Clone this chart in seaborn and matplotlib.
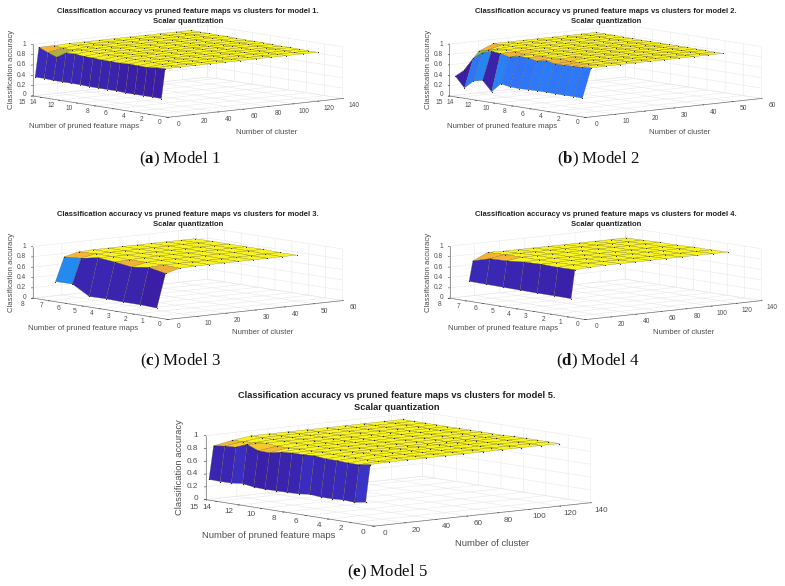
import numpy as np
import matplotlib
matplotlib.use("Agg")
import matplotlib.pyplot as plt
import seaborn as sns
from matplotlib.colors import LinearSegmentedColormap
from mpl_toolkits.mplot3d import proj3d

sns.set_theme(style="white", font="Liberation Sans")
plt.rcParams["mathtext.fontset"] = "custom"
plt.rcParams["mathtext.bf"] = "Liberation Serif:bold"
plt.rcParams["mathtext.rm"] = "Liberation Serif"

W, H = 785, 586

# ---- data ----
clusters_long = [2, 5, 17, 29, 41, 53, 65, 78, 90, 102, 115, 127]
clusters_short = [2, 5, 10, 15, 20, 25, 30, 35, 40, 45, 50]
pruned_15 = list(range(1, 16))
pruned_7 = list(range(1, 8))

# rows run from pruned = 1 upward
m1_low = [.33, .33, .33, .33, .33, .34, .34, .34, .34, .35, .35, .35, .35, .36, .36]
m1_ridge = [.90, .89, .87, .875, .88, .87, .875, .875, .887, .89, .91, .90, .79, .855, .93]
m1_third = [.90, .90, .90, .91, .91, .91, .92, .92, .92, .92, .93, .93, .90, .91, .93]
m1_plateau = [.90, .90, .905, .91, .91, .915, .92, .92, .92, .925, .93, .93, .935, .935, .94]

m2_low = [.33, .336, .333, .333, .337, .335, .33, .325, .33, .36, .18, .37, .33, .17, .37]
m2_ridge = [.895, .88, .87, .864, .863, .90, .86, .90, .90, .854, .898, .913, .85, .72, .466]
m2_third = [.90, .90, .89, .89, .88, .90, .89, .90, .90, .88, .90, .91, .90, .85, .80]
m2_plateau = [.90, .90, .905, .905, .91, .91, .91, .91, .91, .91, .915, .915, .92, .92, .92]

m3_low = [.157, .17, .17, .18, .175, .365, .36]
m3_ridge = [.81, .875, .83, .875, .908, .845, .82]
m3_third = [.88, .89, .89, .89, .90, .90, .89]
m3_plateau = [.89, .89, .90, .90, .90, .90, .90]

m4_low = [.346, .35, .35, .355, .36, .365, .37]
m4_ridge = [.896, .89, .90, .89, .86, .85, .757]
m4_third = [.91, .91, .90, .90, .90, .90, .89]
m4_plateau = [.92, .91, .91, .90, .90, .89, .88]

m5_low = [.34, .31, .32, .31, .31, .324, .305, .30, .297, .293, .30, .328, .308, .305, .31]
m5_ridge = [.92, .89, .89, .90, .90, .92, .91, .907, .894, .855, .86, .93, .86, .85, .827]
m5_third = [.93, .91, .91, .91, .91, .91, .92, .91, .91, .90, .90, .92, .90, .89, .88]
m5_plateau = [.93, .93, .93, .93, .93, .92, .92, .92, .92, .92, .92, .92, .92, .92, .92]

z_ticks = [0, .2, .4, .6, .8, 1]
z_labels = ["0", "0.2", "0.4", "0.6", "0.8", "1"]
y_ticks_15 = [0, 2, 4, 6, 8, 10, 12, 14, 15]
y_ticks_8 = [0, 1, 2, 3, 4, 5, 6, 7, 8]
x_ticks_140 = [0, 20, 40, 60, 80, 100, 120, 140]
x_ticks_60 = [0, 10, 20, 30, 40, 50, 60]

title_a = "Classification accuracy vs pruned feature maps vs clusters for model {}."
title_b = "Scalar quantization"
x_label = "Number of cluster"
y_label = "Number of pruned feature maps"
z_label = "Classification accuracy"

cmap = LinearSegmentedColormap.from_list("surf", [
    (0.00, "#3A1FA6"), (0.07, "#3A30C4"), (0.22, "#2C7BFF"), (0.40, "#12A5D5"),
    (0.62, "#45C08A"), (0.80, "#A8B040"), (0.88, "#EDAE35"), (0.93, "#F5B535"),
    (0.95, "#F5EE22"), (1.00, "#F8F41E")])

panels = [
    dict(n=1, letter="a", xs=clusters_long, ys=pruned_15, low=m1_low, ridge=m1_ridge, third=m1_third,
         plateau=m1_plateau, clim=(.33, .90), xlim=140, ylim=15, xt=x_ticks_140, yt=y_ticks_15,
         left=(33, 95.5), org=(167, 118), right=(343, 99), ztop=43.5,
         tc=188, ty=(11, 21), yl=(84, 127), xl=(267, 133), zl=(12, 69), cap=(180, 159), k=1),
    dict(n=2, letter="b", xs=clusters_short, ys=pruned_15, low=m2_low, ridge=m2_ridge, third=m2_third,
         plateau=m2_plateau, clim=(.17, .93), xlim=60, ylim=15, xt=x_ticks_60, yt=y_ticks_15,
         left=(450, 95.5), org=(584, 118), right=(762, 99), ztop=43.5,
         tc=606, ty=(11, 21), yl=(502, 126), xl=(680, 132), zl=(428, 69), cap=(598, 159), k=1),
    dict(n=3, letter="c", xs=clusters_short, ys=pruned_7, low=m3_low, ridge=m3_ridge, third=m3_third,
         plateau=m3_plateau, clim=(.157, .90), xlim=60, ylim=8, xt=x_ticks_60, yt=y_ticks_8,
         left=(33, 297), org=(167, 319.7), right=(343, 301.5), ztop=246.5,
         tc=188, ty=(214, 223.5), yl=(83, 328), xl=(263, 333), zl=(12, 272), cap=(180, 361), k=1),
    dict(n=4, letter="d", xs=clusters_long, ys=pruned_7, low=m4_low, ridge=m4_ridge, third=m4_third,
         plateau=m4_plateau, clim=(.34, .90), xlim=140, ylim=8, xt=x_ticks_140, yt=y_ticks_8,
         left=(450, 297), org=(584, 319.7), right=(762, 301.5), ztop=246.5,
         tc=606, ty=(214, 223.5), yl=(503, 328), xl=(684, 333), zl=(428, 272), cap=(598, 361), k=1),
    dict(n=5, letter="e", xs=clusters_long, ys=pruned_15, low=m5_low, ridge=m5_ridge, third=m5_third,
         plateau=m5_plateau, clim=(.29, .90), xlim=140, ylim=15, xt=x_ticks_140, yt=y_ticks_15,
         left=(206.7, 497.3), org=(371, 526), right=(591.7, 505.7), ztop=435,
         tc=397, ty=(395, 407), yl=(269, 536), xl=(492, 544), zl=(180, 467), cap=(387, 572), k=1.22),
]

fig = plt.figure(figsize=(W / 100, H / 100), dpi=100)
GREY = (.30, .30, .30)


def place(ax, pts3d, pts2d):
    """Scale and shift the square 3D axes so the named box corners land on the wanted pixels."""
    ax.set_position([.1, .1, 300 / W, 300 / H])
    ax.apply_aspect()
    M = ax.get_proj()
    us, vs = [], []
    for (x, y, z) in pts3d:
        u, v, _ = proj3d.proj_transform(x, y, z, M)
        us.append(u)
        vs.append(v)
    us, vs = np.array(us), np.array(vs)
    tx, ty = np.array([p[0] for p in pts2d]), H - np.array([p[1] for p in pts2d])
    du, dv = us - us.mean(), vs - vs.mean()
    s = ((du * (tx - tx.mean())).sum() + (dv * (ty - ty.mean())).sum()) / ((du**2).sum() + (dv**2).sum())
    ox, oy = tx.mean() - s * us.mean(), ty.mean() - s * vs.mean()
    p0, p1 = ax.transData.transform([[0, 0], [1, 1]])
    sx = p1[0] - p0[0]
    bb = ax.get_window_extent()
    fx, fy = (p0[0] - bb.x0) / bb.width, (p0[1] - bb.y0) / bb.height
    side = bb.width * s / sx
    left, bottom = ox - fx * side, oy - fy * side
    ax.set_position([left / W, bottom / H, side / W, side / H])
    ax.apply_aspect()


def px_text(x, y, s, ha="center", **kw):
    fig.text(x / W, 1 - y / H, s, ha=ha, va="center", **kw)


def to_px(ax, x, y, z):
    u, v, _ = proj3d.proj_transform(x, y, z, ax.get_proj())
    a, b = ax.transData.transform((u, v))
    return a, H - b


for p in panels:
    k = p["k"]
    ax = fig.add_axes([.1, .1, .3, .3], projection="3d", computed_zorder=False)
    ax.patch.set_alpha(0)
    ax.set_proj_type("ortho")
    ax.view_init(elev=7.5, azim=-129.6)
    ax.set_box_aspect((228.6, 214, 52.5))
    ax.set_xlim(0, p["xlim"])
    ax.set_ylim(0, p["ylim"])
    ax.set_zlim(0, 1)

    xs = np.array(p["xs"], float)
    ys = np.array(p["ys"], float)
    Z = np.column_stack([p["low"], p["ridge"], p["third"]] + [p["plateau"]] * (len(xs) - 3))
    X, Y = np.meshgrid(xs, ys)
    lo, hi = p["clim"]
    fc = cmap(np.clip((Z - lo) / (hi - lo), 0, 1))
    ax.plot_surface(X, Y, Z, facecolors=fc, rstride=1, cstride=1, shade=False,
                    edgecolor=(.36, .33, .12), linewidth=.16, antialiased=True)
    ax.plot(X.ravel(), Y.ravel(), Z.ravel(), ls="", marker="o", ms=.8 * k, color="#222222", mew=0)

    ax.set_xticks(p["xt"])
    ax.set_yticks(p["yt"])
    ax.set_zticks(z_ticks)
    ax.set_xticklabels([])
    ax.set_yticklabels([])
    ax.set_zticklabels([])
    for axis in (ax.xaxis, ax.yaxis, ax.zaxis):
        axis.set_pane_color((1, 1, 1, 0))
        axis.pane.set_edgecolor((.88, .88, .88))
        axis.pane.set_linewidth(.4)
        axis.line.set_color((.45, .45, .45))
        axis.line.set_linewidth(.5)
        axis._axinfo["grid"].update(color=(.91, .91, .91), linewidth=.4)
        axis._axinfo["tick"].update(inward_factor=.1, outward_factor=0, linewidth={True: .4, False: .3})
    place(ax,
          [(0, p["ylim"], 0), (0, 0, 0), (p["xlim"], 0, 0), (0, p["ylim"], 1)],
          [p["left"], p["org"], p["right"], (p["left"][0], p["ztop"])])

    ts = 4.8 * k
    for t in p["xt"]:
        a, b = to_px(ax, t, 0, 0)
        px_text(a + 11, b + 7.3, str(t), fontsize=ts, color=GREY)
    top_y = p["yt"][-1]
    for t in p["yt"]:
        a, b = to_px(ax, 0, t, 0)
        last = t == top_y
        px_text(a - 8.5 * k - (1.5 * k if last else 0), b + 5.2 * k + (1.6 * k if last else 0),
                str(t), fontsize=ts, color=GREY)
    for t, s in zip(z_ticks, z_labels):
        a, b = to_px(ax, 0, p["ylim"], t)
        px_text(a - 6.5 * k, b - (1.0 * k if t == 0 else 0), s, ha="right", fontsize=ts, color=GREY)

    px_text(p["tc"], p["ty"][0] + .6, title_a.format(p["n"]), fontsize=5.5 * k, fontweight="bold", color="#222222")
    px_text(p["tc"], p["ty"][1] + .6, title_b, fontsize=5.5 * k, fontweight="bold", color="#222222")
    px_text(*p["yl"], y_label, fontsize=5.55 * k, color=GREY)
    px_text(*p["xl"], x_label, fontsize=5.55 * k, color=GREY)
    px_text(*p["zl"], z_label, fontsize=5.55 * k, color=GREY, rotation=90)
    px_text(*p["cap"], r"($\mathbf{%s}$) Model %d" % (p["letter"], p["n"]),
            fontsize=12.2, family="Liberation Serif", color="#111111")

fig.savefig("out.png", dpi=100)
